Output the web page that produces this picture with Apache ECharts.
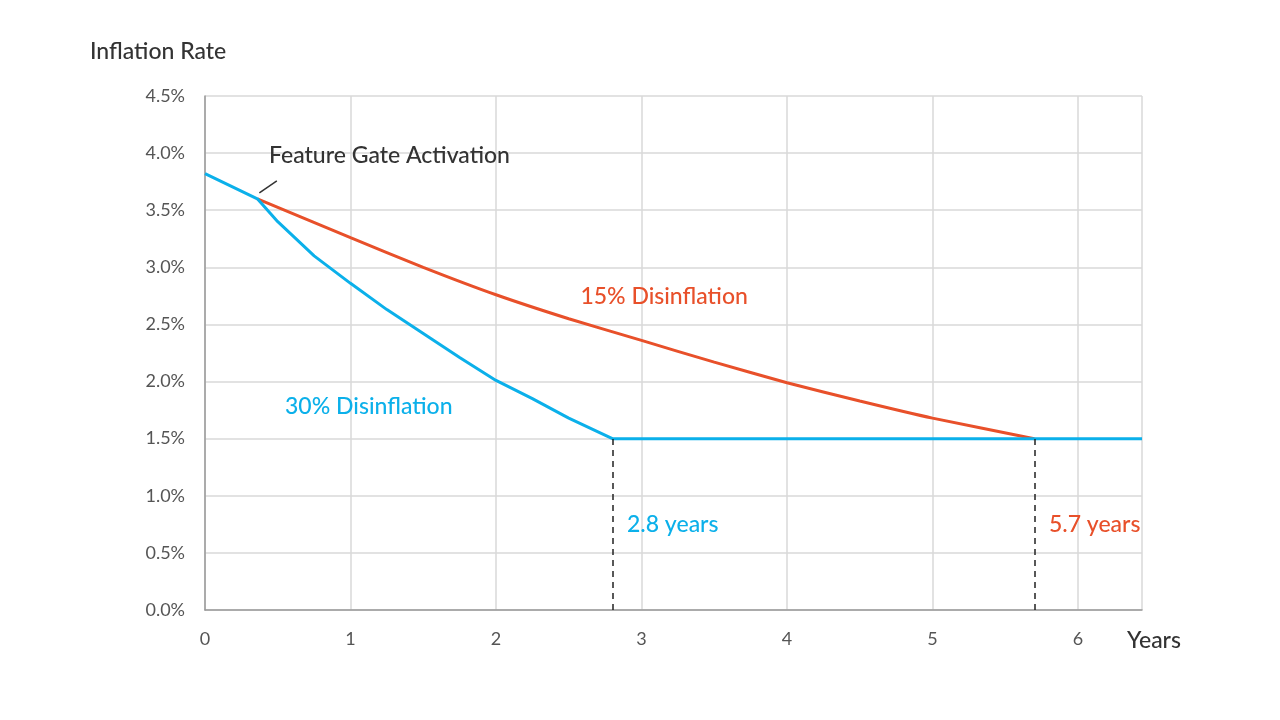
<!DOCTYPE html>
<html><head><meta charset="utf-8">
<script src="https://cdn.jsdelivr.net/npm/echarts@6/dist/echarts.min.js"></script>
<style>html,body{margin:0;background:#fff}#c{width:1280px;height:720px}</style>
</head><body><div id="c"></div>
<script>
const blueData = [[0,3.82],[0.36,3.6],[0.5,3.4],[0.75,3.1],[1,2.86],[1.25,2.63],[1.5,2.42],[1.75,2.21],[2,2.01],[2.25,1.85],[2.5,1.68],[2.8,1.5],[6.44,1.5]];
const redData = [[0.36,3.6],[1,3.26],[1.5,3.0],[2,2.76],[2.5,2.55],[3,2.36],[3.5,2.17],[4,1.99],[4.5,1.83],[5,1.68],[5.7,1.5]];
const dropLines = [2.8, 5.7];
const BLUE = '#0bb0ea', RED = '#e8502a', FONT = 'Lato';
const chart = echarts.init(document.getElementById('c'));
chart.setOption({
  animation:false,
  textStyle:{fontFamily:FONT},
  grid:{left:205,right:138,top:96,bottom:110,containLabel:false,outerBoundsMode:'none'},
  xAxis:{type:'value',min:0,max:6.44,interval:1,
    axisLine:{lineStyle:{color:'#999',width:1.5}},axisTick:{show:false},
    axisLabel:{color:'#555',fontSize:18,margin:20,formatter:v=>Number.isInteger(v)?v:''},
    splitLine:{lineStyle:{color:'#d9d9d9',width:1.5}}},
  yAxis:{type:'value',min:0,max:4.5,interval:0.5,
    axisLine:{show:true,lineStyle:{color:'#999',width:1.5}},axisTick:{show:false},
    axisLabel:{color:'#555',fontSize:18,margin:20,formatter:v=>v.toFixed(1)+'%'},
    splitLine:{lineStyle:{color:'#d9d9d9',width:1.5}}},
  series:[
    {type:'line',data:redData,smooth:0.2,symbol:'none',lineStyle:{color:RED,width:3},z:3},
    {type:'line',data:blueData,smooth:false,symbol:'none',lineStyle:{color:BLUE,width:3},z:4},
    {type:'line',data:[],markLine:{silent:true,symbol:'none',label:{show:false},
      lineStyle:{color:'#222',type:[6,5],width:1.5},
      data:dropLines.map(x=>[{coord:[x,0]},{coord:[x,1.5]}])}}
  ]
});
const p = (x,y)=>chart.convertToPixel({gridIndex:0},[x,y]);
const t = (pos,text,color,size)=>({type:'text',x:pos[0],y:pos[1],
  style:{text,fill:color,font:'500 '+(size||23)+'px '+FONT,textVerticalAlign:'middle'}});
const g0=p(0.36,3.6), g1=p(0.48,3.74);
chart.setOption({graphic:[
  {type:'line',shape:{x1:g0[0]+2,y1:g0[1]-6,x2:g1[0]+2,y2:g1[1]-2},style:{stroke:'#333',lineWidth:1.5}},
  t([90,52],'Inflation Rate','#333'),
  t([1127,641],'Years','#333'),
  t(p(0.44,3.98),'Feature Gate Activation','#333'),
  t(p(2.58,2.74),'15% Disinflation',RED),
  t(p(0.55,1.78),'30% Disinflation',BLUE),
  t(p(2.9,0.75),'2.8 years',BLUE),
  t(p(5.8,0.75),'5.7 years',RED)
]});
</script></body></html>
